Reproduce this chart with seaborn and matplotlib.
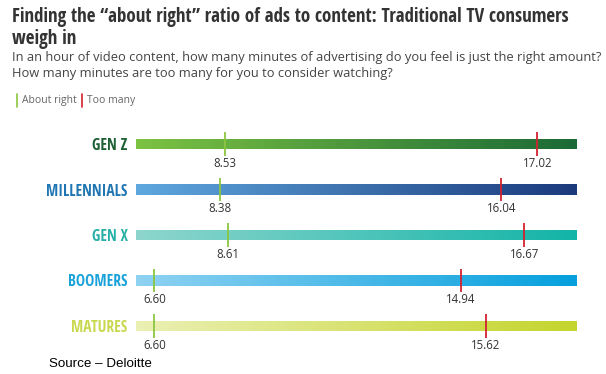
import numpy as np
import matplotlib.pyplot as plt
import seaborn as sns
from matplotlib import font_manager as fm
from matplotlib.colors import LinearSegmentedColormap

# --- data ---
groups = ['GEN Z', 'MILLENNIALS', 'GEN X', 'BOOMERS', 'MATURES']
about_right = [8.53, 8.38, 8.61, 6.60, 6.60]
too_many = [17.02, 16.04, 16.67, 14.94, 15.62]

# gradient colours per group (left -> right) and label colours
grad_left = ['#7cc243', '#5ea7df', '#8ed6cd', '#8fd2f2', '#ebf0b4']
grad_right = ['#1b6a36', '#1b3a7c', '#13b4a8', '#05a0dd', '#c4d52c']
label_colors = ['#1c5f33', '#1f76b2', '#29b0a7', '#1aa2da', '#c9d84f']

GREEN = '#8cc63f'
RED = '#d2222f'
X_MIN, X_MAX = 6.1, 18.1


def find_condensed_bold():
    # look for a bold condensed face, Open Sans first
    def w(f):
        return f.weight if isinstance(f.weight, int) else fm.weight_dict.get(f.weight, 400)
    cands = [f for f in fm.fontManager.ttflist
             if 650 <= w(f) <= 750 and (f.stretch in ('condensed', 'semi-condensed')
                                        or 'Condensed' in f.name or 'Narrow' in f.name)
             and 'Italic' not in f.fname and f.style == 'normal']
    for key in ('Open Sans', 'Roboto', 'Liberation Sans', 'Fira Sans', 'PT Sans', 'Source Sans', 'DejaVu Sans'):
        for f in cands:
            if f.name.startswith(key):
                return fm.FontProperties(fname=f.fname)
    return fm.FontProperties(family='DejaVu Sans', weight='bold')


sns.set_theme(style='white')
plt.rcParams['font.family'] = ['Open Sans', 'DejaVu Sans']
cond_fp = find_condensed_bold()

fig = plt.figure(figsize=(6.06, 3.74), dpi=100)
ax = fig.add_axes([136 / 606, 1 - 348.75 / 374, 441 / 606, 227.5 / 374])

# base bars via seaborn, then clip a gradient into each one
bar_len = [X_MAX] * len(groups)
sns.barplot(x=bar_len, y=groups, orient='h', width=0.22, ax=ax,
            color='white', linewidth=0)
ax.set_xlim(X_MIN, X_MAX)
ax.set_ylim(4.5, -0.5)

grad = np.linspace(0, 1, 256).reshape(1, -1)
for i, patch in enumerate(ax.patches[:len(groups)]):
    cmap = LinearSegmentedColormap.from_list(f'g{i}', [grad_left[i], grad_right[i]])
    y0 = patch.get_y()
    h = patch.get_height()
    im = ax.imshow(grad, cmap=cmap, aspect='auto',
                   extent=(X_MIN, X_MAX, y0 + h, y0), zorder=2)
    im.set_clip_path(patch)

# markers and value labels
for i, g in enumerate(groups):
    ax.vlines(about_right[i], i - 0.26, i + 0.26, color=GREEN, lw=1.3, zorder=3)
    ax.vlines(too_many[i], i - 0.26, i + 0.26, color=RED, lw=1.3, zorder=3)
    ax.text(about_right[i], i + 0.42, f'{about_right[i]:.2f}', ha='center', va='center',
            fontsize=8.3, color='#333333')
    ax.text(too_many[i], i + 0.42, f'{too_many[i]:.2f}', ha='center', va='center',
            fontsize=8.3, color='#333333')

ax.set_yticks(range(len(groups)))
ax.set_yticklabels(groups)
for lab, c in zip(ax.get_yticklabels(), label_colors):
    lab.set_fontproperties(cond_fp)
    lab.set_fontsize(11.2)
    lab.set_color(c)
ax.tick_params(axis='y', length=0, pad=6)
ax.set_xticks([])
ax.set_xlabel('')
ax.set_ylabel('')
sns.despine(ax=ax, left=True, bottom=True)

# titles
title_fp = cond_fp.copy()
title_fp.set_size(13.7)
fig.text(12 / 606, 1 - 7 / 374,
         'Finding the \u201cabout right\u201d ratio of ads to content: Traditional TV consumers\nweigh in',
         ha='left', va='top', color='#333333', fontproperties=title_fp, linespacing=1.12)
fig.text(12 / 606, 1 - 51 / 374,
         'In an hour of video content, how many minutes of advertising do you feel is just the right amount?\n'
         'How many minutes are too many for you to consider watching?',
         ha='left', va='top', fontsize=9.3, color='#444444', linespacing=1.28)

# legend
fig.add_artist(plt.Line2D([17 / 606, 17 / 606], [1 - 94 / 374, 1 - 107 / 374], color=GREEN, lw=1.2))
fig.text(22 / 606, 1 - 100.5 / 374, 'About right', ha='left', va='center', fontsize=7.5, color='#666666')
fig.add_artist(plt.Line2D([82 / 606, 82 / 606], [1 - 94 / 374, 1 - 107 / 374], color=RED, lw=1.2))
fig.text(87 / 606, 1 - 100.5 / 374, 'Too many', ha='left', va='center', fontsize=7.5, color='#666666')

# source
fig.text(49 / 606, 1 - 364 / 374, 'Source \u2013 Deloitte', ha='left', va='center',
         fontsize=9.6, color='#000000', family=['Liberation Sans', 'DejaVu Sans'])

fig.savefig('out.png', dpi=100)
